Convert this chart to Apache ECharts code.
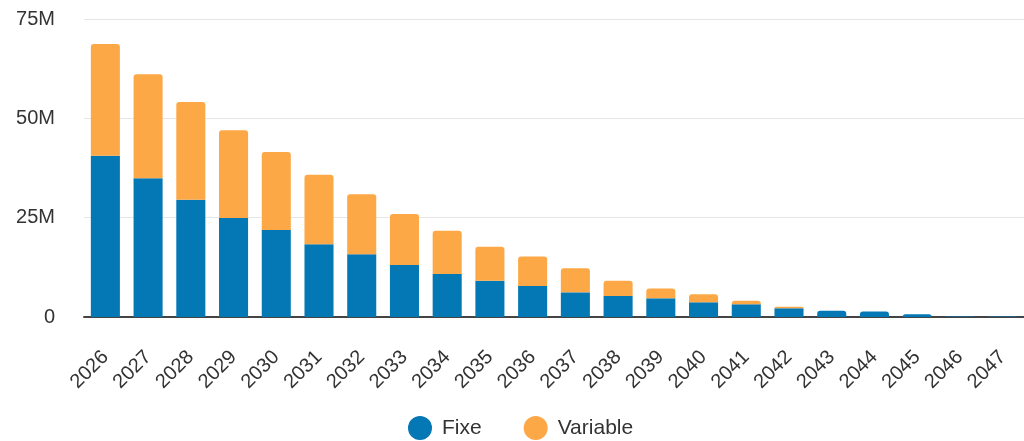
<!DOCTYPE html>
<html>
<head>
<meta charset="utf-8">
<script src="https://cdn.jsdelivr.net/npm/echarts@6/dist/echarts.min.js"></script>
<style>
html, body { margin: 0; padding: 0; background: #fff; }
#chart { width: 1024px; height: 441px; }
</style>
</head>
<body>
<div id="chart"></div>
<script>
var years = ['2026','2027','2028','2029','2030','2031','2032','2033','2034','2035','2036',
             '2037','2038','2039','2040','2041','2042','2043','2044','2045','2046','2047'];
// valeurs en millions
var fixe = [40.6, 34.9, 29.5, 24.9, 21.9, 18.3, 15.8, 13.1, 10.8, 9.1, 7.8,
            6.2, 5.3, 4.7, 3.7, 3.2, 2.2, 1.6, 1.4, 0.7, 0.15, 0.1];
var variable = [28.1, 26.2, 24.6, 22.1, 19.6, 17.5, 15.1, 12.8, 10.9, 8.6, 7.4,
                6.1, 3.8, 2.5, 2.0, 0.9, 0.4, 0, 0, 0, 0, 0];

var blue = '#0478b5';
var orange = '#fda846';

// coins arrondis sur le segment du haut
var fixeData = fixe.map(function (v, i) {
    return {
        value: v * 1e6,
        itemStyle: { borderRadius: variable[i] > 0 ? 0 : [3, 3, 0, 0] }
    };
});
var variableData = variable.map(function (v) { return v * 1e6; });

var myChart = echarts.init(document.getElementById('chart'));
var option = {
    animation: false,
    textStyle: { fontFamily: 'Liberation Sans, Arial, sans-serif' },
    grid: { left: 84, right: -13, top: 19, bottom: 124 },
    legend: {
        data: ['Fixe', 'Variable'],
        left: 403,
        top: 411,
        icon: 'circle',
        itemWidth: 24,
        itemHeight: 24,
        itemGap: 42,
        textStyle: { color: '#333', fontSize: 21, padding: [0, 0, 0, 5] }
    },
    xAxis: {
        type: 'category',
        data: years,
        axisTick: { show: false },
        axisLine: { lineStyle: { color: '#444', width: 2 } },
        axisLabel: { rotate: 45, color: '#333', fontSize: 20, margin: 37 }
    },
    yAxis: {
        type: 'value',
        min: 0,
        max: 75e6,
        interval: 25e6,
        axisLine: { show: false },
        axisTick: { show: false },
        splitLine: { lineStyle: { color: '#e6e6e6' } },
        axisLabel: {
            color: '#333',
            fontSize: 20,
            margin: 29,
            formatter: function (v) { return v === 0 ? '0' : (v / 1e6) + 'M'; }
        }
    },
    series: [
        {
            name: 'Fixe',
            type: 'bar',
            stack: 'total',
            barCategoryGap: '32%',
            itemStyle: { color: blue },
            data: fixeData
        },
        {
            name: 'Variable',
            type: 'bar',
            stack: 'total',
            barCategoryGap: '32%',
            itemStyle: { color: orange, borderRadius: [3, 3, 0, 0] },
            data: variableData
        }
    ]
};
myChart.setOption(option);
</script>
</body>
</html>
